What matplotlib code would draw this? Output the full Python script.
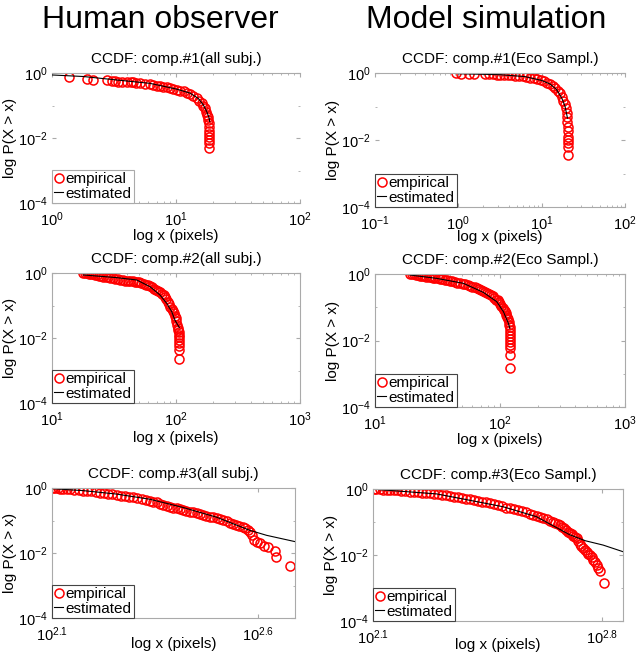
import numpy as np
import matplotlib
matplotlib.use("Agg")
import matplotlib.pyplot as plt
from matplotlib.ticker import FixedLocator, FixedFormatter, LogLocator, NullLocator

plt.rcParams['font.family'] = ['Liberation Sans', 'DejaVu Sans']
plt.rcParams['mathtext.default'] = 'regular'

# ---- data: x in pixels, P = P(X > x) ----
# comp. 1, all subjects
h1_x = [1.38, 1.93, 2.15, 2.76, 3.03, 3.2, 3.43, 3.7, 4.0, 4.3, 4.53, 4.8, 5.13, 5.6, 6.17,
        6.5, 6.98, 7.4, 7.9, 8.4, 8.95, 9.5, 10.1, 10.8, 11.5, 12.2, 13.0, 13.8, 14.7, 15.4,
        16.1, 16.6, 17.1, 17.5, 17.9, 18.0, 18.2, 18.3, 18.4, 18.5, 18.6, 18.6, 18.6, 18.6, 18.6]
h1_p = [0.78, 0.66, 0.60, 0.61, 0.57, 0.56, 0.54, 0.54, 0.54, 0.53, 0.52, 0.50, 0.48, 0.47, 0.45,
        0.43, 0.41, 0.40, 0.38, 0.36, 0.34, 0.32, 0.30, 0.285, 0.27, 0.245, 0.22, 0.195, 0.166, 0.14,
        0.117, 0.10, 0.081, 0.065, 0.051, 0.043, 0.035, 0.028, 0.022, 0.016, 0.0135, 0.011, 0.0088, 0.0069, 0.0048]
h1_fit_x = [1.0, 1.79, 3.33, 6.17, 10.1, 13.0, 15.1, 16.6, 17.7, 18.5, 18.7]
h1_fit_p = [0.87, 0.78, 0.61, 0.48, 0.32, 0.24, 0.166, 0.105, 0.065, 0.041, 0.032]

# comp. 1, eco sampling
m1_x = [0.94, 1.07, 1.36, 1.54, 2.09, 2.36, 2.6, 2.9, 3.2, 3.5, 3.9, 4.3, 4.8, 5.3, 5.9, 6.5, 7.2,
        8.0, 8.8, 9.7, 10.6, 11.6, 12.6, 13.6, 14.6, 15.6, 16.5, 17.4, 18.2, 18.9, 19.5, 19.9,
        20.2, 20.4, 20.5, 20.6, 20.7, 20.7, 20.7, 20.7, 20.7]
m1_p = [0.97, 0.96, 0.95, 0.95, 0.94, 0.93, 0.91, 0.90, 0.89, 0.88, 0.87, 0.86, 0.84, 0.82, 0.79,
        0.77, 0.73, 0.69, 0.65, 0.60, 0.56, 0.51, 0.47, 0.41, 0.355, 0.30, 0.25, 0.195, 0.15, 0.117,
        0.089, 0.066, 0.048, 0.035, 0.025, 0.018, 0.0126, 0.01, 0.0079, 0.0063, 0.0035]
m1_fit_x = [1.0, 3.16, 6.31, 10.0, 12.6, 15.1, 17.4, 19.1, 20.4]
m1_fit_p = [0.95, 0.89, 0.78, 0.60, 0.47, 0.32, 0.18, 0.10, 0.045]

# comp. 2, all subjects
h2_x = [17.9, 18.6, 19.3, 20.0, 20.7, 21.5, 22.3, 23.2, 24.1, 25.0, 26.0, 27.1, 28.3, 29.6, 31.0,
        32.5, 34.0, 35.6, 37.3, 39.0, 40.8, 42.7, 44.6, 46.5, 48.5, 50.5, 52.6, 54.8, 57.0, 59.3,
        61.6, 64.0, 66.5, 69.0, 71.6, 74.2, 76.8, 79.3, 81.6, 83.8, 86.0, 88.1, 90.1, 92.0, 93.9,
        95.7, 97.5, 99.1, 100.6, 101.9, 103.0, 104.0, 104.8, 105.5, 106.0, 106.4, 106.6, 106.6,
        106.6, 106.6]
h2_p = [1.0, 0.99, 0.975, 0.96, 0.94, 0.91, 0.89, 0.86, 0.83, 0.80, 0.78, 0.75, 0.73, 0.71, 0.69,
        0.67, 0.645, 0.625, 0.605, 0.585, 0.575, 0.565, 0.555, 0.545, 0.535, 0.515, 0.49, 0.465,
        0.44, 0.415, 0.39, 0.36, 0.33, 0.305, 0.28, 0.255, 0.23, 0.205, 0.18, 0.155, 0.13, 0.11,
        0.092, 0.078, 0.066, 0.057, 0.048, 0.04, 0.033, 0.026, 0.021, 0.0175, 0.0148, 0.0125,
        0.0105, 0.0088, 0.0069, 0.0055, 0.0043, 0.0022]
h2_fit_x = [17.9, 33.3, 48.2, 61.7, 74.3, 84.1, 92.3, 98.2, 106.4]
h2_fit_p = [0.87, 0.72, 0.61, 0.38, 0.21, 0.117, 0.065, 0.035, 0.021]

# comp. 2, eco sampling
m2_x = [19.1, 19.8, 20.5, 21.3, 22.1, 22.9, 23.8, 24.8, 25.8, 26.9, 28.0, 29.2, 30.4, 31.7, 33.1,
        34.6, 36.2, 37.9, 39.7, 41.6, 43.6, 45.7, 47.9, 50.2, 52.6, 55.0, 57.5, 60.0, 62.6, 65.2,
        67.9, 70.6, 73.4, 76.2, 79.0, 81.8, 84.6, 87.4, 90.2, 92.9, 95.5, 98.0, 100.4, 102.7,
        104.9, 107.0, 109.0, 110.9, 112.7, 114.4, 115.9, 117.2, 118.3, 119.2, 119.9, 120.2,
        120.4, 120.5, 120.5, 120.5, 120.5, 120.5, 120.5]
m2_p = [1.0, 0.985, 0.97, 0.95, 0.93, 0.89, 0.87, 0.85, 0.83, 0.81, 0.79, 0.77, 0.755, 0.735, 0.71,
        0.69, 0.67, 0.65, 0.625, 0.60, 0.575, 0.555, 0.53, 0.51, 0.49, 0.465, 0.445, 0.42, 0.395,
        0.37, 0.35, 0.33, 0.31, 0.285, 0.265, 0.245, 0.23, 0.215, 0.19, 0.17, 0.16, 0.14, 0.125,
        0.11, 0.097, 0.085, 0.075, 0.065, 0.057, 0.05, 0.043, 0.036, 0.03, 0.025, 0.02, 0.0165,
        0.0135, 0.011, 0.009, 0.0074, 0.0058, 0.0036, 0.0015]
m2_fit_x = [19.1, 31.1, 50.9, 73.6, 94.0, 106.4, 116.7, 119.7]
m2_fit_p = [0.93, 0.74, 0.525, 0.28, 0.148, 0.074, 0.033, 0.0234]

# comp. 3, all subjects
h3_x = [126.5, 128, 130, 132, 134, 136.8, 139.5, 142.5, 146, 150, 153, 157, 161, 164.8, 168.5,
        172.5, 176.5, 180.7, 185, 189.5, 194, 198.2, 203, 208, 213, 217.8, 222, 226, 230, 234.5,
        238.8, 243, 248, 252.9, 257.5, 262.4, 267, 272, 277.3, 282.5, 288, 293.1, 298.5, 304.5,
        310.5, 316, 322, 328.1, 334, 340.5, 346.7, 352.5, 359, 366.4, 371, 376.7, 381, 384.6,
        389, 395.5, 402.7, 412, 421.7, 437.5, 441.6, 477.5]
h3_p = [1.0, 0.985, 0.97, 0.96, 0.95, 0.91, 0.90, 0.89, 0.87, 0.83, 0.82, 0.79, 0.76, 0.72, 0.70,
        0.67, 0.64, 0.61, 0.58, 0.56, 0.54, 0.52, 0.49, 0.46, 0.43, 0.41, 0.38, 0.36, 0.33, 0.305,
        0.28, 0.265, 0.25, 0.237, 0.225, 0.21, 0.195, 0.185, 0.178, 0.165, 0.155, 0.148, 0.138,
        0.13, 0.126, 0.118, 0.11, 0.104, 0.094, 0.085, 0.078, 0.074, 0.07, 0.065, 0.058, 0.051,
        0.043, 0.035, 0.026, 0.022, 0.02, 0.017, 0.0158, 0.0117, 0.0078, 0.004]
h3_fit_x = [125.9, 150, 180.7, 217.8, 262.4, 316.2, 380.2, 417.8, 489.8]
h3_fit_p = [0.955, 0.83, 0.65, 0.45, 0.25, 0.126, 0.05, 0.035, 0.0224]

# comp. 3, eco sampling
m3_x = [126.5, 129, 132, 135, 138.5, 141.9, 145.5, 149.5, 153.5, 158, 163.3, 168, 173, 178, 183,
        187.9, 193, 198.5, 204, 210, 216.3, 222.5, 229, 236, 242.5, 249.5, 256.5, 263.5, 271, 279,
        287.1, 295, 303.5, 312, 321, 330.4, 340, 350, 360, 370, 380.2, 390, 400, 409, 418, 427.6,
        437, 446, 455, 462, 469.9, 477, 484, 490, 497, 503.5, 510, 516, 522, 528.4, 534, 540.8,
        547, 553.4, 560, 567.5, 574, 580.8, 587, 594.3, 601, 608.1, 616, 623.7, 639.7]
m3_p = [1.0, 0.985, 0.97, 0.955, 0.945, 0.93, 0.92, 0.905, 0.89, 0.87, 0.83, 0.81, 0.79, 0.77, 0.755,
        0.74, 0.72, 0.70, 0.68, 0.645, 0.615, 0.59, 0.565, 0.54, 0.515, 0.49, 0.465, 0.44, 0.415,
        0.39, 0.37, 0.345, 0.32, 0.295, 0.275, 0.26, 0.24, 0.225, 0.21, 0.195, 0.18, 0.165, 0.15,
        0.138, 0.13, 0.12, 0.11, 0.1, 0.092, 0.088, 0.081, 0.072, 0.064, 0.057, 0.05, 0.046, 0.042,
        0.038, 0.035, 0.032, 0.027, 0.022, 0.019, 0.016, 0.014, 0.0126, 0.011, 0.01, 0.0085,
        0.0071, 0.006, 0.005, 0.004, 0.0032, 0.0014]
m3_fit_x = [127.6, 197.2, 314.8, 398.1, 503.5, 562.3, 636.8, 732.8]
m3_fit_p = [0.977, 0.71, 0.29, 0.145, 0.041, 0.027, 0.02, 0.0126]

titles = ['CCDF: comp.#1(all subj.)', 'CCDF: comp.#1(Eco Sampl.)',
          'CCDF: comp.#2(all subj.)', 'CCDF: comp.#2(Eco Sampl.)',
          'CCDF: comp.#3(all subj.)', 'CCDF: comp.#3(Eco Sampl.)']

panels = [
    (h1_x, h1_p, h1_fit_x, h1_fit_p),
    (m1_x, m1_p, m1_fit_x, m1_fit_p),
    (h2_x, h2_p, h2_fit_x, h2_fit_p),
    (m2_x, m2_p, m2_fit_x, m2_fit_p),
    (h3_x, h3_p, h3_fit_x, h3_fit_p),
    (m3_x, m3_p, m3_fit_x, m3_fit_p),
]

# axes rectangles in pixels: left, top, right, bottom  (figure is 640 x 659)
W, H = 640, 659
boxes = [(52, 73, 300, 203), (375, 73, 625, 207),
         (52, 273, 300, 403), (375, 274, 625, 407),
         (52, 488, 295, 618), (373, 489, 623, 621)]
xlims = [(1, 100), (0.1, 100), (10, 1000), (10, 1000),
         (10 ** 2.1, 10 ** 2.69), (10 ** 2.1, 10 ** 2.865)]
# top of the x label, pixels
xlab_top = [229, 230, 431, 433, 637, 638]

fig = plt.figure(figsize=(6.4, 6.59), dpi=100)
grey = '#aaaaaa'

for i in range(6):
    l, t, r, b = boxes[i]
    ax = fig.add_axes([l / W, 1 - b / H, (r - l) / W, (b - t) / H])
    ex, ep, fx, fp = panels[i]
    ax.loglog(ex, ep, 'o', mfc='none', mec='red', ms=6.5, mew=1.1, label='empirical')
    ax.loglog(fx, fp, '-', color='black', lw=0.8, label='estimated')
    ax.set_xlim(*xlims[i])
    ax.set_ylim(1e-4, 1)
    ax.yaxis.set_major_locator(FixedLocator([1e-4, 1e-2, 1]))
    ax.yaxis.set_minor_locator(FixedLocator([1e-3, 1e-1]))
    ax.yaxis.set_minor_formatter(FixedFormatter(['', '']))
    if i == 4:
        ax.xaxis.set_major_locator(FixedLocator([10 ** 2.1, 10 ** 2.6]))
        ax.xaxis.set_major_formatter(FixedFormatter([r'$10^{2.1}$', r'$10^{2.6}$']))
        ax.xaxis.set_minor_locator(NullLocator())
    elif i == 5:
        ax.xaxis.set_major_locator(FixedLocator([10 ** 2.1, 10 ** 2.8]))
        ax.xaxis.set_major_formatter(FixedFormatter([r'$10^{2.1}$', r'$10^{2.8}$']))
        ax.xaxis.set_minor_locator(NullLocator())
    else:
        ax.xaxis.set_major_locator(LogLocator(base=10, numticks=10))
    ax.tick_params(which='both', direction='in', color=grey, labelsize=10.5, top=True, right=True)
    ax.tick_params(which='major', length=3)
    ax.tick_params(which='minor', length=1.5)
    ax.tick_params(axis='x', pad=5)
    ax.tick_params(axis='y', pad=3)
    for s in ax.spines.values():
        s.set_color(grey)
        s.set_linewidth(0.8)
    if i < 2:
        ax.spines['left'].set_visible(False)
        ax.spines['right'].set_visible(False)
    ax.set_title(titles[i], fontsize=11, pad=7)
    ax.set_xlabel('log x (pixels)', fontsize=11)
    ax.xaxis.set_label_coords(0.5, -(xlab_top[i] - b) / (b - t))
    ax.set_ylabel('log P(X > x)', fontsize=11, labelpad=1)
    leg = ax.legend(loc='lower left', fontsize=11, borderaxespad=0, handlelength=0.6,
                    handletextpad=0.15, borderpad=0.15, labelspacing=0.05, fancybox=False,
                    framealpha=1)
    leg.get_frame().set_linewidth(0.8)
    leg.get_frame().set_edgecolor(grey if i == 0 else '#444444')

fig.text(0.25, 1 - 20 / H, 'Human observer', fontsize=23, ha='center', va='center')
fig.text(0.76, 1 - 20 / H, 'Model simulation', fontsize=23, ha='center', va='center')

fig.savefig('out.png', dpi=100)
